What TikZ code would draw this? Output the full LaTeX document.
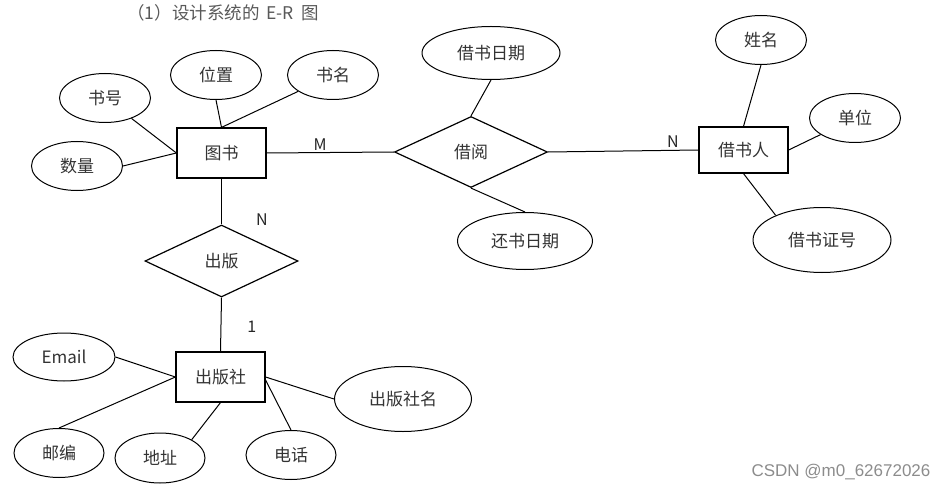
\documentclass[tikz,border=0pt]{standalone}
\usepackage{fontspec}
\setmainfont{Noto Sans CJK SC}
\newfontfamily\wmfont{Liberation Sans}
\usepackage{tikz}
\usetikzlibrary{shapes.geometric}
\tikzstyle{entity} = [rectangle, minimum width=89pt, minimum height=50pt, inner sep=0pt, text centered, draw=black, line width=1.2pt, text=black!80, font=\fontsize{17}{20}\selectfont]
\tikzstyle{attr} = [ellipse, minimum width=91pt, minimum height=49pt, inner sep=0pt, text centered, draw=black, line width=1pt, text=black!80, font=\fontsize{17}{20}\selectfont]
\tikzstyle{relation} = [diamond, aspect=2, minimum width=153pt, minimum height=72pt, inner sep=0pt, text centered, draw=black, line width=1.2pt, text=black!80, font=\fontsize{17}{20}\selectfont]
\tikzstyle{link} = [line width=1pt]
\tikzstyle{card} = [inner sep=2pt, text=black!85, font=\fontsize{16}{18}\selectfont]

\begin{document}
\begin{tikzpicture}[x=1pt, y=-1pt]
    \useasboundingbox (0,0) rectangle (944,489);
    \node (title) [text=black!65, font=\fontsize{17.5}{20}\selectfont] at (223,13) {（1）设计系统的\hspace{3pt} E-R\hspace{3pt} 图};
    % Nodes
    \node (tushu) [entity] at (221.5,153) {图书};
    \node (shuhao) [attr] at (105,98) {书号};
    \node (shuliang) [attr] at (77,166) {数量};
    \node (weizhi) [attr] at (216,75) {位置};
    \node (shuming) [attr] at (333,75) {书名};
    \node (jieyue) [relation, minimum height=71pt] at (471,152) {借阅};
    \node (jie_date) [attr, minimum width=138pt, minimum height=53pt] at (491,53) {借书日期};
    \node (huan_date) [attr, minimum width=135pt, minimum height=57pt] at (525,241) {还书日期};
    \node (jieshuren) [entity, minimum height=46pt] at (743.5,150) {借书人};
    \node (xingming) [attr] at (761,40) {姓名};
    \node (danwei) [attr] at (855,118) {单位};
    \node (jiezheng) [attr, minimum width=138pt, minimum height=65pt] at (822,240) {借书证号};
    \node (chuban) [relation] at (221.5,261) {出版};
    \node (chubanshe) [entity] at (220.5,377) {出版社};
    \node (email) [attr, minimum width=102pt, minimum height=48pt] at (64,357) {Email};
    \node (youbian) [attr, minimum width=90pt] at (59,453) {邮编};
    \node (dizhi) [attr, minimum width=90pt, minimum height=50pt] at (160,458) {地址};
    \node (dianhua) [attr, minimum width=90pt] at (291,455) {电话};
    \node (she_name) [attr, minimum width=137pt, minimum height=65pt] at (403,399) {出版社名};
    \node (watermark) [text=black!45, font=\wmfont\fontsize{17}{20}\selectfont] at (841,472) {CSDN @m0\_62672026};
    % Lines
    \draw [link] (shuhao) -- (tushu.west);
    \draw [link] (shuliang.east) -- (tushu.west);
    \draw [link] (weizhi.south) -- (tushu.north);
    \draw [link] (shuming) -- (tushu.north);
    \draw [link] (tushu.east) -- node[card, pos=0.42, above] {M} (jieyue.west);
    \draw [link] (jieyue.east) -- node[card, pos=0.83, above] {N} (jieshuren.west);
    \draw [link] (jie_date.south) -- (jieyue.north);
    \draw [link] (jieyue.south) -- (huan_date.north);
    \draw [link] (xingming.south) -- (jieshuren.north);
    \draw [link] (danwei) -- (jieshuren.east);
    \draw [link] (jieshuren.south) -- (jiezheng.152);
    \draw [link] (tushu.south) -- node[card, pos=0.9, right, xshift=32pt] {N} (chuban.north);
    \draw [link] (chuban.south) -- node[card, pos=0.54, right, xshift=24pt] {1} (chubanshe.north);
    \draw [link] (email.east) -- (chubanshe.west);
    \draw [link] (youbian.north) -- (chubanshe.west);
    \draw [link] (dizhi.30) -- (chubanshe.south);
    \draw [link] (dianhua.north) -- ([yshift=-3pt]chubanshe.east);
    \draw [link] (she_name.west) -- (chubanshe.east);
\end{tikzpicture}
\end{document}
